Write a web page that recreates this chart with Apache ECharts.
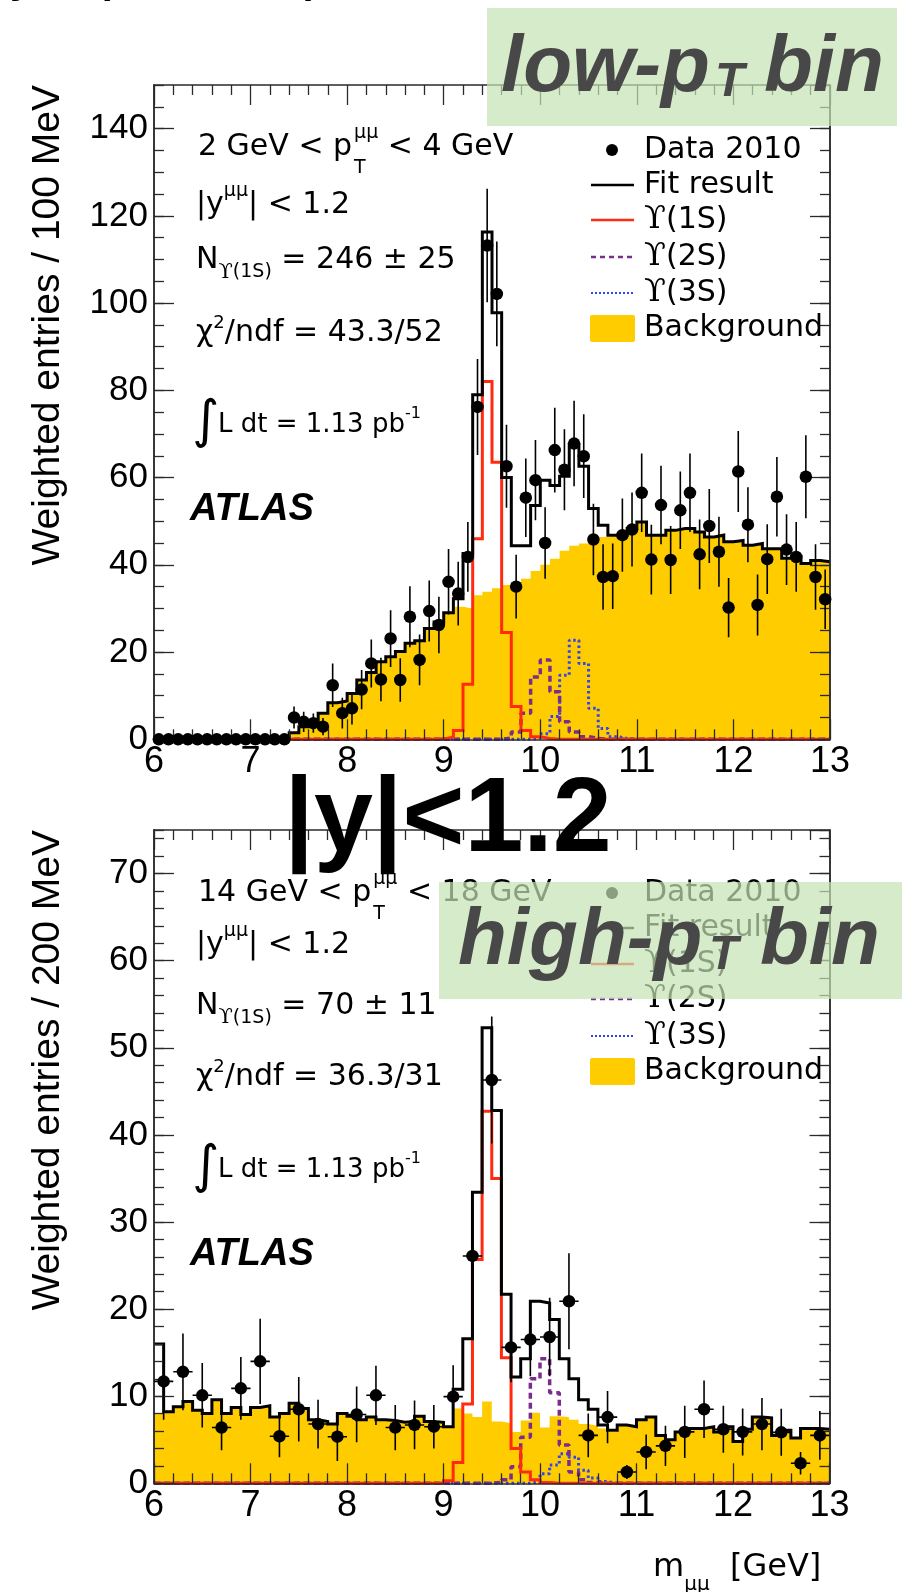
<!DOCTYPE html>
<html>
<head>
<meta charset="utf-8">
<title>Upsilon mass fits, |y| &lt; 1.2</title>
<script src="https://cdn.jsdelivr.net/npm/echarts@6/dist/echarts.min.js"></script>
<style>
  html, body { margin: 0; padding: 0; background: #fff; }
  #chart { width: 908px; height: 1592px; }
</style>
</head>
<body>
<div id="chart"></div>
<script>
// ---------- data ----------
const massMin = 6;
const massMax = 13;
const binWidth = 0.1;          // fit templates: 100 MeV bins in both panels
const dataWidthHigh = 0.2;     // high-pT data points: 200 MeV bins
const xTickLabels = ['6', '7', '8', '9', '10', '11', '12', '13'];

// low-pT bin (2 < pT < 4 GeV), entries / 100 MeV, 70 bins from 6.0 GeV
const lowData = [0, 0, 0, 0, 0, 0, 0, 0, 0, 0, 0, 0, 0, 0,
  5.0, 4.0, 3.7, 2.9, 12.4, 6.0, 7.1, 11.4, 17.4, 13.7, 23.1, 13.6, 28.1, 18.2, 29.4, 26.2,
  36.1, 33.4, 41.8, 76.2, 113.2, 102.1, 62.6, 35.0, 55.4, 59.4, 45.0, 66.3, 61.8, 67.8, 64.9, 45.8,
  37.2, 37.4, 46.8, 48.1, 56.5, 41.2, 53.7, 41.1, 52.5, 56.5, 42.4, 48.9, 43.0, 30.2, 61.4, 49.2,
  30.8, 41.3, 55.6, 43.5, 41.8, 60.2, 37.2, 32.1];
const lowErr = [0, 0, 0, 0, 0, 0, 0, 0, 0, 0, 0, 0, 0, 0,
  2.5, 2.3, 2.2, 2.0, 5.0, 3.5, 3.7, 4.5, 5.5, 5.0, 6.5, 5.0, 7.0, 5.8, 7.0, 6.5,
  7.5, 7.3, 8.0, 11.0, 13.0, 12.0, 9.5, 7.3, 9.0, 9.2, 8.2, 9.7, 9.3, 9.8, 9.6, 8.2,
  7.5, 7.5, 8.4, 8.5, 9.0, 8.0, 9.0, 7.8, 8.9, 9.0, 8.0, 8.5, 8.0, 6.8, 9.3, 8.6,
  7.0, 8.0, 9.1, 8.1, 8.0, 9.5, 7.5, 6.8];
const lowFit = [0, 0, 0, 0, 0, 0, 0, 0, 0, 0, 0, 0, 0, 0,
  1.5, 2.9, 4.2, 6.0, 8.4, 8.8, 10.5, 13.6, 15.3, 17.8, 18.9, 20.1, 22.0, 22.6, 25.4, 26.9,
  29.0, 32.2, 42.6, 79.0, 116.3, 97.8, 60.0, 44.4, 44.4, 53.6, 59.4, 58.2, 60.3, 67.6, 62.6, 52.9,
  49.1, 46.8, 46.8, 48.3, 49.8, 46.8, 46.8, 47.9, 48.3, 48.3, 47.5, 46.4, 46.8, 45.3, 45.6, 44.5,
  44.9, 43.7, 43.7, 41.5, 41.8, 40.3, 41.0, 40.7];
const lowBkg = [0, 0, 0, 0, 0, 0, 0, 0, 0, 0, 0, 0, 0, 0,
  1.4, 2.8, 4.1, 5.9, 8.3, 8.7, 10.4, 13.5, 15.2, 17.7, 18.8, 20.0, 21.9, 22.5, 25.3, 26.8,
  28.8, 30.4, 30.0, 33.0, 33.8, 34.6, 35.4, 36.0, 36.8, 38.6, 40.0, 41.4, 43.2, 44.4, 44.9, 45.6,
  46.4, 46.6, 46.7, 48.1, 49.6, 46.6, 46.6, 47.7, 48.1, 48.1, 47.3, 46.2, 46.6, 45.1, 45.4, 44.3,
  44.7, 43.5, 43.5, 41.3, 41.6, 40.1, 40.8, 40.5];
const low1S = [0, 0, 0, 0, 0, 0, 0, 0, 0, 0, 0, 0, 0, 0, 0, 0, 0, 0, 0, 0, 0, 0, 0, 0, 0, 0, 0, 0, 0,
  0.1, 0.5, 2.0, 12.6, 46.0, 82.0, 63.5, 24.5, 7.5, 2.0, 0.6, 0.2,
  0, 0, 0, 0, 0, 0, 0, 0, 0, 0, 0, 0, 0, 0, 0, 0, 0, 0, 0, 0, 0, 0, 0, 0, 0, 0, 0, 0, 0];
const low2S = [0, 0, 0, 0, 0, 0, 0, 0, 0, 0, 0, 0, 0, 0, 0, 0, 0, 0, 0, 0, 0, 0, 0, 0, 0, 0, 0, 0, 0, 0,
  0, 0, 0, 0, 0, 0,
  0.3, 1.7, 6.0, 14.3, 18.2, 10.9, 4.0, 1.7, 0.6, 0.2,
  0, 0, 0, 0, 0, 0, 0, 0, 0, 0, 0, 0, 0, 0, 0, 0, 0, 0, 0, 0, 0, 0, 0, 0];
const low3S = [0, 0, 0, 0, 0, 0, 0, 0, 0, 0, 0, 0, 0, 0, 0, 0, 0, 0, 0, 0, 0, 0, 0, 0, 0, 0, 0, 0, 0, 0,
  0, 0, 0, 0, 0, 0, 0, 0, 0,
  0.3, 1.3, 5.2, 14.7, 22.7, 17.4, 7.1, 2.5, 0.6, 0.2,
  0, 0, 0, 0, 0, 0, 0, 0, 0, 0, 0, 0, 0, 0, 0, 0, 0, 0, 0, 0, 0];

// high-pT bin (14 < pT < 18 GeV), entries / 200 MeV
const highData = [11.7, 12.8, 10.1, 6.4, 10.9, 14.0, 5.4, 8.5, 6.8, 5.35, 7.9, 10.1, 6.4, 6.7, 6.5,
  9.95, 26.1, 46.3, 15.6, 16.5, 16.8, 20.9, 5.5, 7.6, 1.3, 3.6, 4.3, 5.9, 8.5, 6.2,
  5.9, 6.8, 5.85, 2.3, 5.5];
const highErr = [4.4, 4.4, 3.7, 2.6, 3.6, 4.9, 2.4, 3.7, 2.8, 2.8, 3.2, 3.4, 2.6, 2.8, 2.5,
  3.6, 5.5, 7.3, 4.0, 4.2, 4.5, 5.5, 2.5, 3.0, 0.8, 2.0, 2.3, 3.0, 3.3, 2.7,
  2.7, 3.0, 2.7, 1.3, 2.8];
const highFit = [16.0, 8.2, 8.8, 9.4, 8.4, 8.0, 9.6, 8.0, 8.7, 7.9, 8.7, 8.9, 7.6, 8.0, 9.2,
  8.6, 7.3, 7.1, 6.8, 8.0, 7.7, 7.3, 7.6, 7.3, 7.2, 7.0, 7.1, 7.7, 7.1, 7.0,
  6.5, 10.8, 16.6, 33.4, 52.3, 42.8, 21.7, 12.2, 14.3, 20.9, 20.7, 18.8, 14.3, 12.0, 9.6,
  8.5, 6.7, 6.1, 6.7, 6.5, 7.3, 7.6, 5.5, 5.0, 5.9, 6.3, 6.3, 6.5, 5.9, 6.5,
  4.8, 6.2, 7.6, 7.5, 5.5, 6.1, 5.2, 6.3, 6.3, 6.2];
const highBkg = [8.0, 8.2, 8.8, 9.4, 8.4, 8.0, 9.6, 8.0, 8.7, 7.9, 8.7, 8.9, 7.6, 8.0, 9.2,
  8.6, 7.3, 7.1, 6.8, 8.0, 7.7, 7.3, 7.6, 7.3, 7.2, 7.0, 7.1, 7.7, 7.1, 7.0,
  6.4, 8.6, 8.0, 7.6, 9.4, 7.1, 6.9, 5.9, 7.2, 8.1, 6.4, 7.7, 7.6, 7.3, 6.8,
  6.6, 6.3, 5.9, 6.6, 6.4, 7.2, 7.5, 5.4, 4.9, 5.8, 6.2, 6.2, 6.4, 5.8, 6.4,
  4.7, 6.1, 7.5, 7.4, 5.4, 6.0, 5.1, 6.2, 6.2, 6.1];
const high1S = [0, 0, 0, 0, 0, 0, 0, 0, 0, 0, 0, 0, 0, 0, 0, 0, 0, 0, 0, 0, 0, 0, 0, 0, 0, 0, 0, 0, 0, 0,
  0.3, 2.4, 9.1, 25.7, 42.7, 35.0, 14.4, 4.0, 1.3, 0.4, 0.1,
  0, 0, 0, 0, 0, 0, 0, 0, 0, 0, 0, 0, 0, 0, 0, 0, 0, 0, 0, 0, 0, 0, 0, 0, 0, 0, 0, 0, 0];
const high2S = [0, 0, 0, 0, 0, 0, 0, 0, 0, 0, 0, 0, 0, 0, 0, 0, 0, 0, 0, 0, 0, 0, 0, 0, 0, 0, 0, 0, 0, 0,
  0, 0, 0, 0, 0, 0.1, 0.4, 1.9, 5.3, 12.0, 14.3, 10.4, 4.4, 1.3, 0.4, 0.1,
  0, 0, 0, 0, 0, 0, 0, 0, 0, 0, 0, 0, 0, 0, 0, 0, 0, 0, 0, 0, 0, 0, 0, 0];
const high3S = [0, 0, 0, 0, 0, 0, 0, 0, 0, 0, 0, 0, 0, 0, 0, 0, 0, 0, 0, 0, 0, 0, 0, 0, 0, 0, 0, 0, 0, 0,
  0, 0, 0, 0, 0, 0, 0, 0, 0, 0.2, 1.1, 2.1, 3.4, 3.0, 1.5, 0.6, 0.2,
  0, 0, 0, 0, 0, 0, 0, 0, 0, 0, 0, 0, 0, 0, 0, 0, 0, 0, 0, 0, 0, 0, 0];

// ---------- helpers ----------
const frameColor = '#2a2a2a';
const bkgColor = '#ffcc00';
const col1S = '#ff2a10';
const col2S = '#7b2c8c';
const col3S = '#3344ee';

// histogram -> step line: one point per left bin edge, plus the last right edge
function stepData(vals) {
  const pts = vals.map((v, i) => [massMin + i * binWidth, v]);
  pts.push([massMin + vals.length * binWidth, vals[vals.length - 1]]);
  return pts;
}
function points(vals, errs, width) {
  return vals.map((v, i) => [massMin + (i + 0.5) * width, v, errs[i]]);
}
function errorBars(halfWidth) {
  return function (params, api) {
    const x = api.value(0), y = api.value(1), e = api.value(2);
    const kids = [];
    if (e > 0) {
      const a = api.coord([x, Math.max(0, y - e)]);
      const b = api.coord([x, y + e]);
      kids.push({ type: 'line', shape: { x1: a[0], y1: a[1], x2: b[0], y2: b[1] },
        style: { stroke: '#000', lineWidth: 1.6 } });
    }
    if (halfWidth) {
      const l = api.coord([x - halfWidth, y]);
      const r = api.coord([x + halfWidth, y]);
      kids.push({ type: 'line', shape: { x1: l[0], y1: l[1], x2: r[0], y2: r[1] },
        style: { stroke: '#000', lineWidth: 1.6 } });
    }
    return { type: 'group', children: kids };
  };
}

function xAxisDef(grid, position, labels) {
  return {
    type: 'value', gridIndex: grid, position, min: massMin, max: massMax, interval: 1, z: 10,
    axisLine: { show: true, onZero: false, lineStyle: { color: frameColor, width: 1.5 } },
    axisTick: { show: true, inside: true, length: 20, lineStyle: { color: frameColor, width: 1.3 } },
    minorTick: { show: true, splitNumber: 5, length: 10, lineStyle: { color: frameColor, width: 1.3 } },
    splitLine: { show: false },
    axisLabel: { show: labels, margin: 5, color: '#000', fontSize: 36, fontFamily: 'Liberation Sans',
      formatter: v => xTickLabels[Math.round(v) - massMin] }
  };
}
function yAxisDef(grid, position, max, interval, len, labels) {
  return {
    type: 'value', gridIndex: grid, position, min: 0, max, interval, z: 10,
    axisLine: { show: true, onZero: false, lineStyle: { color: frameColor, width: 1.5 } },
    axisTick: { show: true, inside: true, length: len, lineStyle: { color: frameColor, width: 1.3 } },
    splitLine: { show: false },
    axisLabel: { show: labels, margin: 6, color: '#000', fontSize: 35, fontFamily: 'Liberation Sans',
      showMaxLabel: false }
  };
}

function panelSeries(xi, yi, fit, bkg, s1, s2, s3, dots, errs, dotWidth, halfBar) {
  const base = { type: 'line', xAxisIndex: xi, yAxisIndex: yi, step: 'end', symbol: 'none',
    animation: false, silent: true };
  return [
    Object.assign({}, base, { name: 'Background', data: stepData(bkg), z: 2,
      lineStyle: { width: 0 }, areaStyle: { color: bkgColor, opacity: 1 } }),
    Object.assign({}, base, { name: 'Y(3S)', data: stepData(s3), z: 3,
      lineStyle: { color: col3S, width: 3, type: [2.5, 3] } }),
    Object.assign({}, base, { name: 'Y(2S)', data: stepData(s2), z: 3,
      lineStyle: { color: col2S, width: 3.5, type: [6, 4] } }),
    Object.assign({}, base, { name: 'Y(1S)', data: stepData(s1), z: 4,
      lineStyle: { color: col1S, width: 3, join: 'miter' } }),
    Object.assign({}, base, { name: 'Fit result', data: stepData(fit), z: 5,
      lineStyle: { color: '#000', width: 3, join: 'miter' } }),
    { type: 'custom', xAxisIndex: xi, yAxisIndex: yi, z: 11, silent: true, clip: true,
      data: points(dots, errs, dotWidth), renderItem: errorBars(halfBar) },
    { type: 'scatter', xAxisIndex: xi, yAxisIndex: yi, z: 12, silent: true,
      symbol: 'circle', symbolSize: 12.5, itemStyle: { color: '#000', opacity: 1 },
      data: points(dots, errs, dotWidth).map(p => [p[0], p[1]]) }
  ];
}

// ---------- text helpers (chained pieces for sub/superscripts) ----------
const measureCtx = document.createElement('canvas').getContext('2d');
function fontOf(p) {
  return `${p.st || 'normal'} ${p.fw || 'normal'} ${p.fs}px "${p.ff || 'DejaVu Sans'}"`;
}
function txt(x, y, text, p) {
  return {
    type: 'text', x, y, z: p.z || 50, rotation: p.rot || 0, silent: true,
    style: { text, fill: p.fill || '#000', fontSize: p.fs, fontFamily: p.ff || 'DejaVu Sans',
      fontWeight: p.fw || 'normal', fontStyle: p.st || 'normal',
      align: p.align || 'left', textAlign: p.align || 'left',
      verticalAlign: 'middle', textVerticalAlign: 'middle' }
  };
}
function chain(x, y, parts) {
  const out = [];
  parts.forEach(p => {
    out.push(txt(x + (p.dx || 0), y + (p.dy || 0), p.t, p));
    if (!p.keep) {
      measureCtx.font = fontOf(p);
      x += (p.dx || 0) + measureCtx.measureText(p.t).width;
    }
  });
  return out;
}
function annotations(yLines, ptLow, ptHigh, nText, chiText) {
  const x = 196;
  return [].concat(
    chain(x + 2, yLines[0], [{ t: ptLow + ' GeV < p', fs: 30 },
      { t: 'T', fs: 19, dx: 2, dy: 21, keep: true }, { t: 'μμ', fs: 19, dx: 2, dy: -14 },
      { t: ' < ' + ptHigh + ' GeV', fs: 30 }]),
    chain(x, yLines[1], [{ t: '|y', fs: 30 }, { t: 'μμ', fs: 19, dy: -14 }, { t: '| < 1.2', fs: 30 }]),
    chain(x, yLines[2], [{ t: 'N', fs: 30 }, { t: 'ϒ', fs: 21, ff: 'DejaVu Serif', dy: 12 },
      { t: '(1S)', fs: 19, dy: 12 }, { t: ' = ' + nText, fs: 30 }]),
    chain(x, yLines[3], [{ t: 'χ', fs: 30 }, { t: '2', fs: 18, dy: -10 }, { t: '/ndf = ' + chiText, fs: 30 }]),
    [txt(x - 4, yLines[4] - 2, '∫', { fs: 52, ff: 'DejaVu Sans' })],
    chain(x + 22, yLines[4], [{ t: 'L dt = 1.13 pb', fs: 26 }, { t: '-1', fs: 16, dy: -11 }]),
    [txt(x - 6, yLines[5], 'ATLAS', { fs: 38, ff: 'Liberation Sans', fw: 'bold', st: 'italic' })]
  );
}
function legend(rows) {
  const lx1 = 591, lx2 = 634, tx = 644;
  const els = [];
  els.push({ type: 'circle', z: 50, silent: true, shape: { cx: 612, cy: rows[0], r: 6 }, style: { fill: '#000' } });
  els.push(txt(tx, rows[0], 'Data 2010', { fs: 30 }));
  const lines = [
    { y: rows[1], stroke: '#000', w: 2.5, dash: null, label: null },
    { y: rows[2], stroke: col1S, w: 2.5, dash: null, label: '(1S)' },
    { y: rows[3], stroke: col2S, w: 2.5, dash: [5, 4], label: '(2S)' },
    { y: rows[4], stroke: col3S, w: 2, dash: [2, 2], label: '(3S)' }
  ];
  lines.forEach(l => {
    els.push({ type: 'line', z: 50, silent: true, shape: { x1: lx1, y1: l.y, x2: lx2, y2: l.y },
      style: { stroke: l.stroke, lineWidth: l.w, lineDash: l.dash } });
    if (l.label) {
      els.push(...chain(tx, l.y, [{ t: 'ϒ', fs: 32, ff: 'DejaVu Serif' }, { t: l.label, fs: 30 }]));
    } else {
      els.push(txt(tx, l.y, 'Fit result', { fs: 30 }));
    }
  });
  els.push({ type: 'rect', z: 50, silent: true,
    shape: { x: lx1 - 1, y: rows[5] - 13, width: lx2 - lx1 + 2, height: 27, r: 2 }, style: { fill: bkgColor } });
  els.push(txt(tx, rows[5], 'Background', { fs: 30 }));
  return els;
}
function overlayBox(x, y, w, h, word, xs, yMid, ySub) {
  const big = { fs: 80, ff: 'Liberation Sans', fw: 'bold', st: 'italic', fill: '#484848', z: 101 };
  return [
    { type: 'rect', z: 100, silent: true, shape: { x, y, width: w, height: h },
      style: { fill: 'rgba(196,226,178,0.7)' } },
    txt(xs[0], yMid, word + '-p', big),
    txt(xs[1], ySub, 'T', Object.assign({}, big, { fs: 48 })),
    txt(xs[2], yMid, 'bin', big)
  ];
}

const graphics = [].concat(
  // clipped bits of a heading above the top edge
  [['y', 10], [',', 50], ['(', 97], [',', 198], [')', 305]].map(
    ([t, x]) => txt(x, -18, t, { fs: 40, ff: 'Liberation Sans', fw: 'bold' })),
  // y-axis titles, rotated, ending at the top of each frame
  [txt(48, 85, 'Weighted entries / 100 MeV', { fs: 39, ff: 'Liberation Sans', rot: Math.PI / 2, align: 'right' }),
   txt(48, 830, 'Weighted entries / 200 MeV', { fs: 39, ff: 'Liberation Sans', rot: Math.PI / 2, align: 'right' })],
  // x-axis title
  chain(653, 1568, [{ t: 'm', fs: 32 }, { t: 'μμ', fs: 20, dy: 17 }, { t: '  [GeV]', fs: 32 }]),
  annotations([147.5, 205, 260.5, 333, 425, 510], '2', '4', '246 ± 25', '43.3/52'),
  annotations([893, 945, 1006, 1077, 1170, 1255], '14', '18', '70 ± 11', '36.3/31'),
  legend([150, 185, 220, 257, 293, 328]),
  legend([893, 928, 964, 999, 1036, 1071]),
  overlayBox(487, 8, 410, 118, 'low', [501, 715, 764], 69, 83),
  overlayBox(439, 882, 463, 117, 'high', [458, 709, 760], 942, 956),
  [txt(448, 822, '|y|<1.2', { fs: 106, ff: 'Liberation Sans', fw: 'bold', align: 'center', z: 102 })]
);

// ---------- chart ----------
const chart = echarts.init(document.getElementById('chart'), null, { renderer: 'canvas' });
chart.setOption({
  animation: false,
  backgroundColor: '#fff',
  textStyle: { fontFamily: 'DejaVu Sans' },
  grid: [
    { left: 154, top: 85, width: 676, height: 654.3, outerBoundsMode: 'none' },
    { left: 154, top: 830, width: 675.5, height: 653.3, outerBoundsMode: 'none' }
  ],
  xAxis: [
    xAxisDef(0, 'bottom', true), xAxisDef(0, 'top', false),
    xAxisDef(1, 'bottom', true), xAxisDef(1, 'top', false)
  ],
  yAxis: [
    yAxisDef(0, 'left', 150, 20, 20, true), yAxisDef(0, 'left', 150, 5, 10, false),
    yAxisDef(0, 'right', 150, 20, 20, false), yAxisDef(0, 'right', 150, 5, 10, false),
    yAxisDef(1, 'left', 75, 10, 20, true), yAxisDef(1, 'left', 75, 2, 10, false),
    yAxisDef(1, 'right', 75, 10, 20, false), yAxisDef(1, 'right', 75, 2, 10, false)
  ],
  series: [].concat(
    panelSeries(0, 0, lowFit, lowBkg, low1S, low2S, low3S, lowData, lowErr, binWidth, 0),
    panelSeries(2, 4, highFit, highBkg, high1S, high2S, high3S, highData, highErr, dataWidthHigh, dataWidthHigh / 2)
  ),
  graphic: { elements: graphics }
});
window.addEventListener('resize', () => chart.resize());
</script>
</body>
</html>
